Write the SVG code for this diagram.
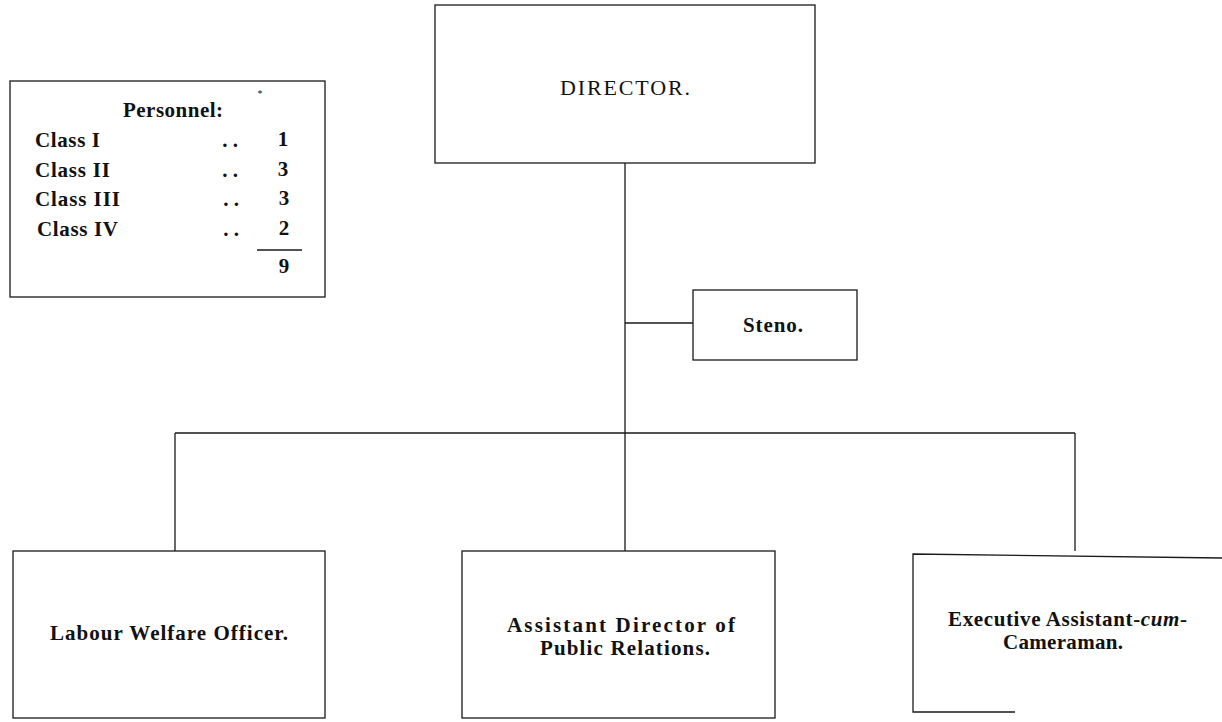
<svg xmlns="http://www.w3.org/2000/svg" width="1222" height="722" viewBox="0 0 1222 722">
  <style>
    .box { fill: none; stroke: #1a1a1a; stroke-width: 1.3; }
    .wire { fill: none; stroke: #1a1a1a; stroke-width: 1.3; }
    .t { font-family: "Liberation Serif", "Times New Roman", serif; fill: #111; }
    .lbl { font-size: 21px; font-weight: bold; }
    .tbl { font-size: 21px; font-weight: bold; }
  </style>
  <rect width="1222" height="722" fill="#ffffff"/>

  <!-- staffing summary -->
  <g id="personnel">
    <rect class="box" x="10" y="81" width="315" height="216"/>
    <text class="t" x="260" y="97" font-size="10" text-anchor="middle">*</text>
    <text class="t tbl" x="123" y="117" textLength="100" lengthAdjust="spacing">Personnel:</text>
    <text class="t tbl" x="35" y="147" textLength="65" lengthAdjust="spacing">Class I</text>
    <text class="t tbl" x="35" y="177" textLength="75" lengthAdjust="spacing">Class II</text>
    <text class="t tbl" x="35" y="206" textLength="85" lengthAdjust="spacing">Class III</text>
    <text class="t tbl" x="37" y="236" textLength="81" lengthAdjust="spacing">Class IV</text>
    <text class="t tbl" x="230" y="147" text-anchor="middle">. .</text>
    <text class="t tbl" x="230" y="177" text-anchor="middle">. .</text>
    <text class="t tbl" x="231" y="206" text-anchor="middle">. .</text>
    <text class="t tbl" x="231" y="236" text-anchor="middle">. .</text>
    <text class="t tbl" x="283" y="146" text-anchor="middle">1</text>
    <text class="t tbl" x="283" y="176" text-anchor="middle">3</text>
    <text class="t tbl" x="284" y="205" text-anchor="middle">3</text>
    <text class="t tbl" x="284" y="235" text-anchor="middle">2</text>
    <line class="wire" x1="257" y1="250" x2="302" y2="250"/>
    <text class="t tbl" x="284" y="273" text-anchor="middle">9</text>
  </g>

  <!-- reporting lines -->
  <g id="connectors">
    <line class="wire" x1="625" y1="163" x2="625" y2="433"/>
    <line class="wire" x1="625" y1="323" x2="693" y2="323"/>
    <line class="wire" x1="175" y1="433" x2="1075" y2="433"/>
    <line class="wire" x1="175" y1="433" x2="175" y2="551"/>
    <line class="wire" x1="625" y1="433" x2="625" y2="551"/>
    <line class="wire" x1="1075" y1="433" x2="1075" y2="551"/>
  </g>

  <g id="director">
    <rect class="box" x="435" y="5" width="380" height="158"/>
    <text class="t" x="560" y="95" font-size="22" textLength="130" lengthAdjust="spacing">DIRECTOR.</text>
  </g>

  <g id="steno">
    <rect class="box" x="693" y="290" width="164" height="70"/>
    <text class="t lbl" x="743" y="332" textLength="60" lengthAdjust="spacing">Steno.</text>
  </g>

  <g id="labour-welfare-officer">
    <rect class="box" x="13" y="551" width="312" height="167"/>
    <text class="t lbl" x="50" y="640" textLength="238" lengthAdjust="spacing">Labour Welfare Officer.</text>
  </g>

  <g id="asst-director-pr">
    <rect class="box" x="462" y="551" width="313" height="167"/>
    <text class="t lbl" x="507" y="632" textLength="228" lengthAdjust="spacing">Assistant Director of</text>
    <text class="t lbl" x="540" y="655" textLength="170" lengthAdjust="spacing">Public Relations.</text>
  </g>

  <g id="exec-asst-cameraman">
    <path class="box" d="M1222 558 L913 554 L913 712 L1015 712"/>
    <text class="t lbl" x="948" y="626" font-size="20" textLength="239" lengthAdjust="spacing">Executive Assistant-<tspan font-style="italic">cum</tspan>-</text>
    <text class="t lbl" x="1003" y="649" font-size="20" textLength="120" lengthAdjust="spacing">Cameraman.</text>
  </g>
</svg>
